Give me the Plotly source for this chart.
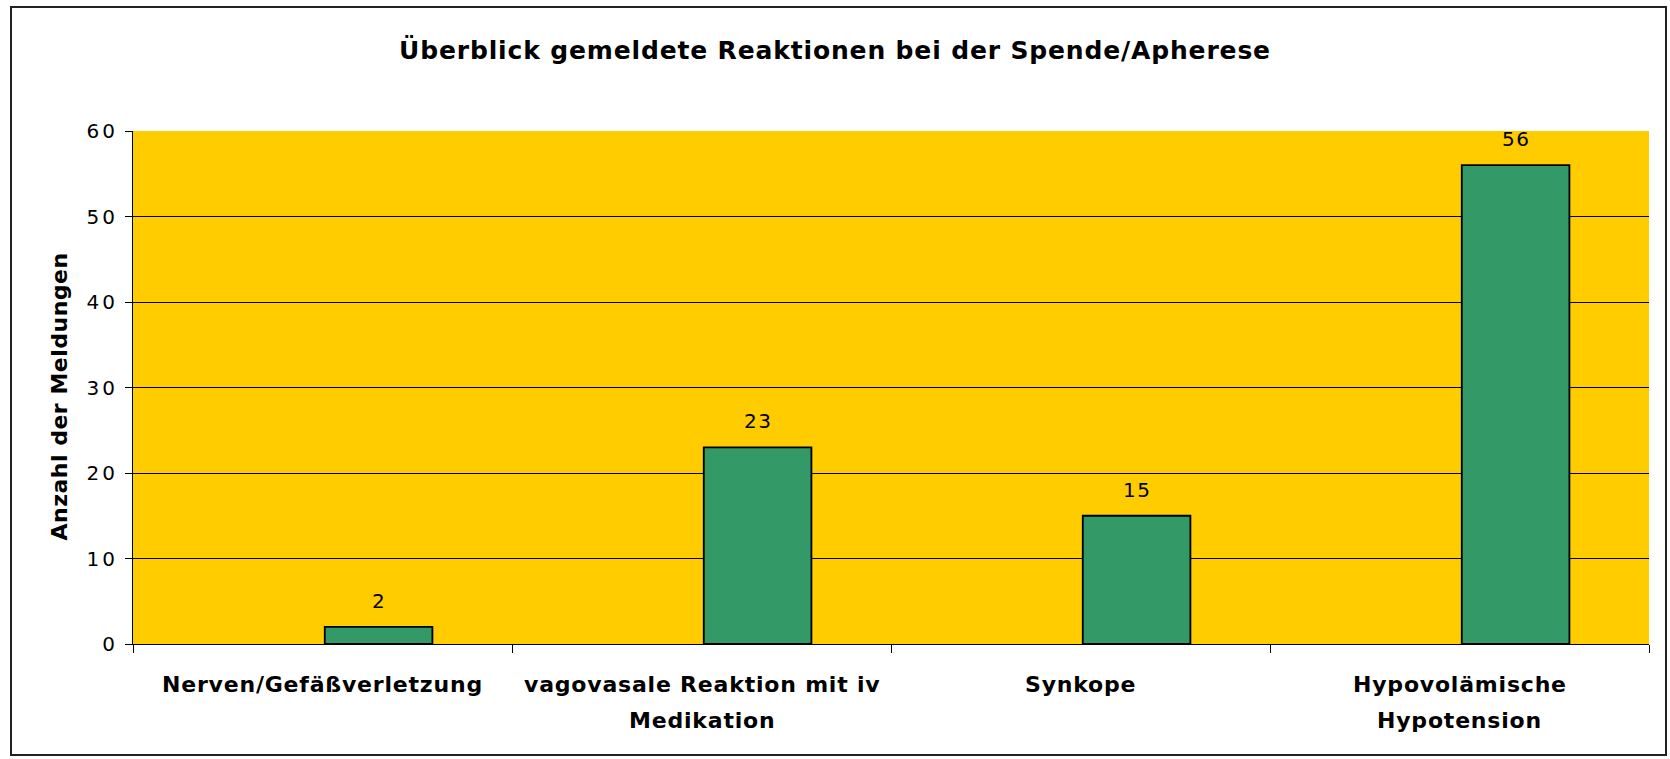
import plotly.graph_objects as go

categories = ["Nerven/Gefäßverletzung", "vagovasale Reaktion mit iv\nMedikation", "Synkope", "Hypovolämische\nHypotension"]
values = [2, 23, 15, 56]
y_ticks = [0, 10, 20, 30, 40, 50, 60]

title = "Überblick gemeldete Reaktionen bei der Spende/Apherese"
y_title = "Anzahl der Meldungen"

FONT = "'DejaVu Sans', Arial, sans-serif"
W, H = 1670, 759
L, R, T, B = 133, 21, 131, 115
BAR_WIDTH = 0.284
BAR_OFFSET = 0.006


def spaced(text, px, bold=False):
    s = "<span style='letter-spacing:%spx'>%s</span>" % (px, text)
    return "<b>%s</b>" % s if bold else s


xs = list(range(len(categories)))
fig = go.Figure()
fig.add_trace(go.Bar(
    x=xs, y=values, width=BAR_WIDTH, offset=BAR_OFFSET,
    marker=dict(color="#339966", line=dict(color="black", width=1.8)),
    hoverinfo="skip",
))

pw = W - L - R
ph = H - T - B

annotations = []
for i, v in zip(xs, values):
    annotations.append(dict(x=i + BAR_OFFSET + BAR_WIDTH / 2, y=v, xref="x", yref="y",
                            text=spaced(str(v), 1.5), showarrow=False,
                            yanchor="bottom", yshift=12,
                            font=dict(family=FONT, size=20, color="black")))
for i, c in zip(xs, categories):
    for j, line in enumerate(c.split("\n")):
        annotations.append(dict(x=i, y=0, xref="x", yref="paper", text=spaced(line, 0.8, True),
                                showarrow=False, yanchor="middle", yshift=-(40 + 36 * j),
                                font=dict(family=FONT, size=22, color="black")))
annotations.append(dict(x=(59 - L) / pw, y=0.5 - 9 / ph, xref="paper", yref="paper",
                        text=spaced(y_title, 0.5, True), textangle=-90, showarrow=False,
                        xanchor="center", yanchor="middle",
                        font=dict(family=FONT, size=22, color="black")))

fig.update_layout(
    width=W, height=H,
    margin=dict(l=L, r=R, t=T, b=B),
    paper_bgcolor="white", plot_bgcolor="#FFCC00",
    showlegend=False,
    title=dict(text=spaced(title, 0.85, True), x=0.5, xanchor="center", y=1 - 50 / H, yanchor="middle",
               font=dict(family=FONT, size=25, color="black")),
    annotations=annotations,
    shapes=[dict(type="rect", xref="paper", yref="paper",
                 x0=(11 - L) / pw, x1=(1666 - L) / pw,
                 y0=-(755 - (H - B)) / ph, y1=1 + (T - 7) / ph,
                 line=dict(color="#222222", width=2), fillcolor="rgba(0,0,0,0)", layer="below")],
    xaxis=dict(range=[-0.5, len(categories) - 0.5], tickvals=[-0.5, 0.5, 1.5, 2.5, 3.5],
               ticktext=["", "", "", "", ""], ticks="outside", ticklen=8, tickcolor="black",
               showgrid=False, showline=True, linecolor="black", linewidth=1, zeroline=False),
    yaxis=dict(range=[0, 60], tickvals=y_ticks, ticktext=[spaced(str(t), 3) for t in y_ticks],
               ticks="outside", ticklen=7, tickcolor="black", ticklabelstandoff=3,
               showgrid=True, gridcolor="black", gridwidth=1, showline=True, linecolor="black",
               linewidth=1, zeroline=False,
               tickfont=dict(family=FONT, size=20, color="black")),
)
fig.write_html("out.html", config={"displayModeBar": False},
               post_script="document.body.style.margin='0px';")
